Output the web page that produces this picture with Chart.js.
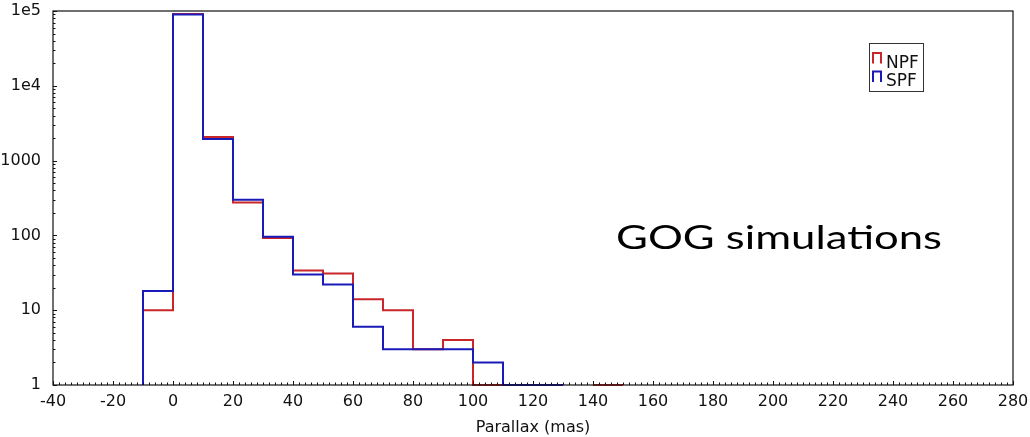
<!DOCTYPE html>
<html>
<head>
<meta charset="utf-8">
<script src="https://cdn.jsdelivr.net/npm/chart.js@4/dist/chart.umd.min.js"></script>
<style>
  html, body { margin: 0; padding: 0; background: #ffffff; }
  #wrap { position: relative; width: 1030px; height: 437px; }
</style>
</head>
<body>
<div id="wrap"><canvas id="c" width="1030" height="437"></canvas></div>
<script>
// Parallax histogram bins (left edge of each 10 mas bin)
const binStarts = [-10, 0, 10, 20, 30, 40, 50, 60, 70, 80, 90, 100, 110, 120, 130, 140];
const binWidth = 10;
// Star counts per bin
const npfCounts = [10, 91000, 2070, 275, 92, 34, 31, 14, 10, 3, 4, 1, 0, 0, 0, 1];
const spfCounts = [18, 90000, 1950, 300, 96, 30, 22, 6, 3, 3, 3, 2, 1, 1, 0, 0];
// Axis ticks
const xTickValues = [-40, -20, 0, 20, 40, 60, 80, 100, 120, 140, 160, 180, 200, 220, 240, 260, 280];
const yTickValues = [1, 10, 100, 1000, 10000, 100000];
const yTickLabels = ['1', '10', '100', '1000', '1e4', '1e5'];
const seriesNames = ['NPF', 'SPF'];
const annotationText = 'GOG simulations';

const RED = '#c8262b';
const BLUE = '#1a1ab8';

// Turn bin counts into a histogram outline (step path), broken at empty bins
function outline(counts) {
  const pts = [];
  let open = false;
  counts.forEach((c, i) => {
    const l = binStarts[i], r = l + binWidth;
    if (c > 0) {
      if (!open) { pts.push({x: l, y: 1}); open = true; }
      pts.push({x: l, y: c});
      pts.push({x: r, y: c});
      const next = counts[i + 1];
      if (!(next > 0)) { pts.push({x: r, y: 1}); pts.push({x: r, y: null}); open = false; }
    }
  });
  return pts;
}

// Frame, inward minor ticks, legend box and annotation
const decorations = {
  id: 'decorations',
  afterDraw(chart) {
    const {ctx, chartArea: a, scales: {x, y}} = chart;
    ctx.save();
    ctx.strokeStyle = '#111';
    ctx.lineWidth = 1.2;
    ctx.strokeRect(a.left, a.top, a.right - a.left, a.bottom - a.top);

    ctx.lineWidth = 1;
    ctx.beginPath();
    for (let v = x.min; v <= x.max; v += 2) {
      const px = Math.round(x.getPixelForValue(v)) + 0.5;
      const len = (v % 20 === 0) ? 4 : 2.5;
      ctx.moveTo(px, a.bottom);
      ctx.lineTo(px, a.bottom - len);
    }
    for (let d = 1; d < 100000; d *= 10) {
      for (let m = 1; m <= 10; m++) {
        const py = Math.round(y.getPixelForValue(d * m)) + 0.5;
        const len = (m === 1 || m === 10) ? 4 : 2.5;
        ctx.moveTo(a.left, py);
        ctx.lineTo(a.left + len, py);
      }
    }
    ctx.stroke();

    // legend
    ctx.strokeStyle = '#333';
    ctx.lineWidth = 1;
    ctx.strokeRect(869.5, 43.5, 54, 48);
    const colors = [RED, BLUE];
    ctx.font = '17px "DejaVu Sans"';
    ctx.textBaseline = 'middle';
    ctx.textAlign = 'left';
    seriesNames.forEach((name, i) => {
      const top = 53 + i * 18.5;
      ctx.strokeStyle = colors[i];
      ctx.lineWidth = 2;
      ctx.beginPath();
      ctx.moveTo(873, top + 10.5);
      ctx.lineTo(873, top);
      ctx.lineTo(881, top);
      ctx.lineTo(881, top + 10.5);
      ctx.stroke();
      ctx.fillStyle = '#111';
      ctx.fillText(name, 886, top + 10.5);
    });

    // annotation, stretched to its printed width
    ctx.fillStyle = '#000';
    ctx.font = '33px Lato';
    ctx.textBaseline = 'alphabetic';
    const w = ctx.measureText(annotationText).width;
    ctx.translate(616, 249);
    ctx.scale(326 / w, 1);
    ctx.fillText(annotationText, 0, 0);
    ctx.restore();
  }
};

new Chart(document.getElementById('c'), {
  type: 'line',
  data: {
    datasets: [
      { label: seriesNames[1], data: outline(spfCounts), borderColor: BLUE, borderWidth: 2,
        pointRadius: 0, fill: false, spanGaps: false, clip: 4, order: 0 },
      { label: seriesNames[0], data: outline(npfCounts), borderColor: RED, borderWidth: 2,
        pointRadius: 0, fill: false, spanGaps: false, clip: 4, order: 1 }
    ]
  },
  options: {
    responsive: false,
    animation: false,
    devicePixelRatio: 1,
    layout: { padding: { top: 11, right: 17, left: 0, bottom: 0 } },
    plugins: { legend: { display: false }, tooltip: { enabled: false } },
    elements: { line: { tension: 0, borderJoinStyle: 'miter', borderCapStyle: 'butt' } },
    scales: {
      x: {
        type: 'linear', min: -40, max: 280,
        afterBuildTicks: s => { s.ticks = xTickValues.map(v => ({value: v})); },
        afterFit: s => { s.height = 52; s.paddingLeft = 0; s.paddingRight = 0; },
        grid: { display: false },
        border: { display: false },
        ticks: { color: '#111', font: { family: 'DejaVu Sans', size: 16 }, padding: -1, maxRotation: 0 },
        title: { display: true, text: 'Parallax (mas)', color: '#111',
                 font: { family: 'DejaVu Sans', size: 16 }, padding: { top: 1, bottom: 0 } }
      },
      y: {
        type: 'logarithmic', min: 1, max: 100000,
        afterBuildTicks: s => { s.ticks = yTickValues.map(v => ({value: v})); },
        afterFit: s => { s.width = 53; s.paddingTop = 0; s.paddingBottom = 0; },
        grid: { display: false },
        border: { display: false },
        ticks: { color: '#111', font: { family: 'DejaVu Sans', size: 16 }, padding: 4,
                 callback: v => { const i = yTickValues.indexOf(v); return i >= 0 ? yTickLabels[i] : ''; } }
      }
    }
  },
  plugins: [decorations]
});
</script>
</body>
</html>
